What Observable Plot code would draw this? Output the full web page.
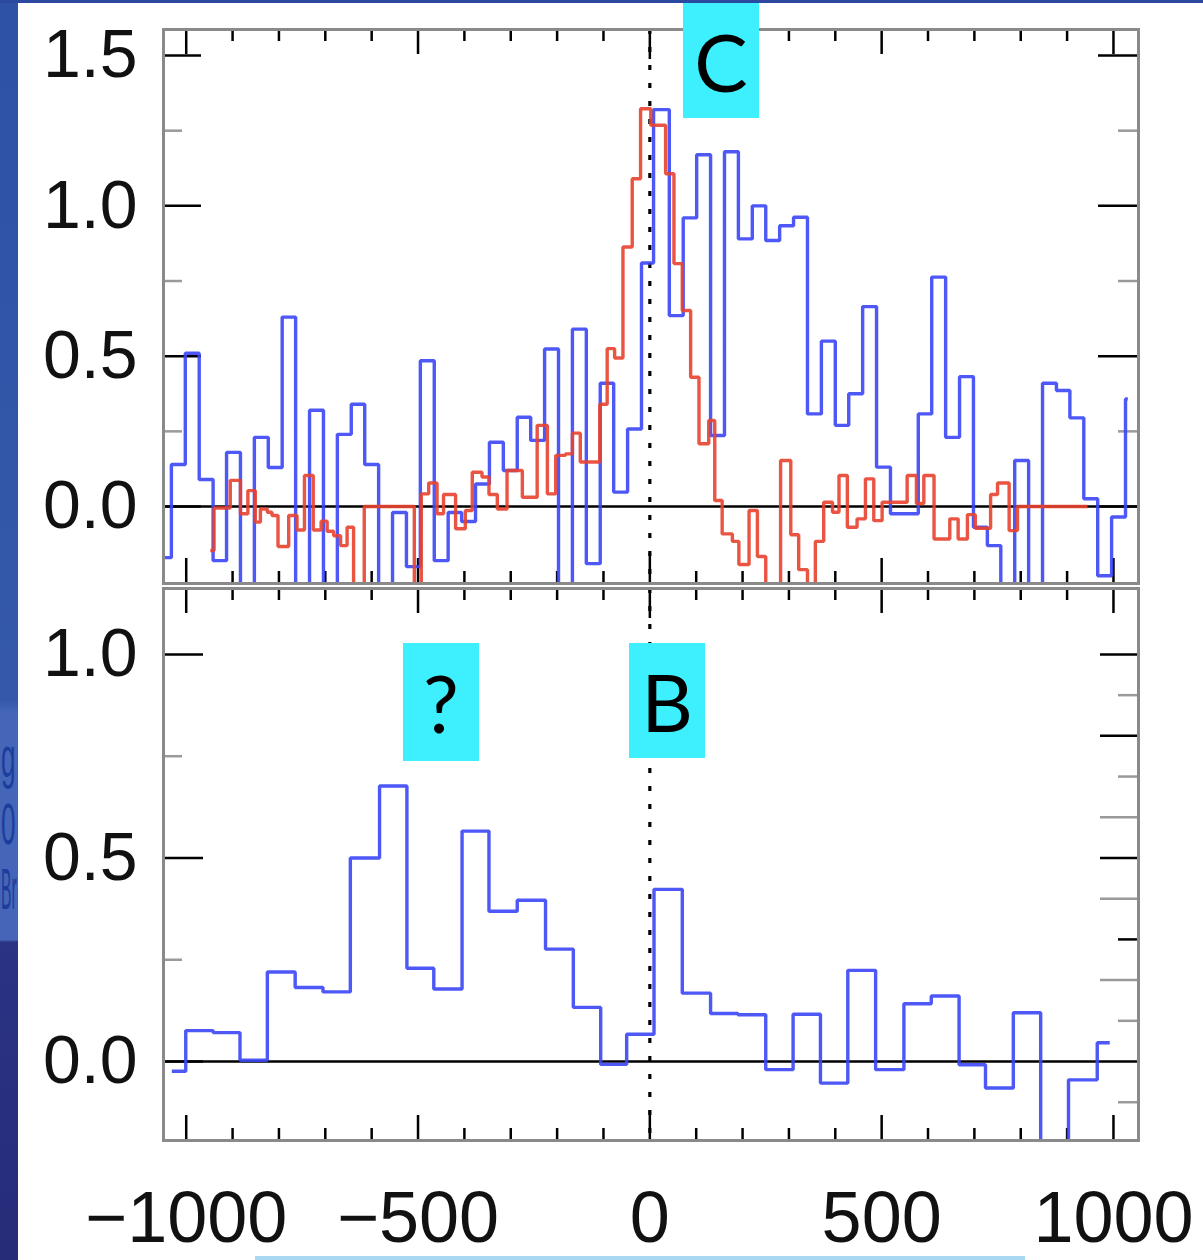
<!DOCTYPE html>
<html>
<head>
<meta charset="utf-8">
<script src="https://cdn.jsdelivr.net/npm/d3@7"></script>
<script src="https://cdn.jsdelivr.net/npm/@observablehq/plot@0.6"></script>
<style>
  body { margin: 0; background: #fff; }
  #wrap { position: relative; width: 1203px; height: 1260px; overflow: hidden; background: #fff; }
  .panel { position: absolute; left: 0; }
  .tag { position: absolute; background: #3ef0fe; color: #000; font-family: Lato, "Open Sans", sans-serif;
         display: flex; align-items: center; justify-content: center; font-size: 80px; line-height: 1; }
  #strip { position: absolute; left: 0; top: 0; width: 18px; height: 1260px; overflow: hidden;
           background: linear-gradient(#2d52a6 0px, #3558aa 700px, #4566b8 712px, #4566b8 940px, #2a3384 942px, #262c78 1260px); }
  #strip span { position: absolute; left: 1px; color: #1d3d9c; font-family: "Liberation Sans", sans-serif;
                font-size: 58px; line-height: 1; transform-origin: 0 0; white-space: nowrap; }
  #topstrip { position: absolute; left: 0; top: 0; width: 1203px; height: 3px; background: #2b49a0; }
  #botline { position: absolute; left: 255px; top: 1256px; width: 770px; height: 4px; background: #a9d9f2; }
</style>
</head>
<body>
<div id="wrap">
  <div id="strip"><span style="top:728px;transform:scaleX(0.45)">g</span><span style="top:795px;transform:scaleX(0.45)">0</span><span style="top:860px;transform:scaleX(0.27)">Br</span></div>
  <div id="topstrip"></div>
  <div id="botline"></div>
</div>
<script>
// ---------------- data ----------------
// top panel, blue spectrum: left bin edges and values (step histogram)
const blueTopEdges = [-1046,-1032,-1002,-972,-942,-913,-883,-853,-823,-793,-764,-734,-704,-674,-644,-615,-585,-555,-525,-495,-465,-435,-406,-376,-346,-316,-286,-257,-227,-197,-167,-137,-107,-78,-48,-18,8,42,72,101,131,161,191,221,250,280,310,340,370,400,429,459,489,519,549,579,608,638,668,698,728,757,787,817,847,877,906,936,966,996,1026];
const blueTopValues = [-0.17,0.14,0.51,0.09,-0.18,0.18,-0.4,0.23,0.13,0.63,-0.4,0.32,-0.4,0.24,0.34,0.14,-0.4,-0.02,-0.20,0.485,-0.18,-0.02,-0.05,0.075,0.214,0.12,0.297,0.22,0.524,-0.4,0.59,-0.19,0.41,0.048,0.258,0.81,1.32,0.635,0.96,1.17,0.236,1.18,0.89,1.0,0.885,0.934,0.962,0.308,0.55,0.27,0.375,0.665,0.131,-0.024,-0.024,0.308,0.763,0.23,0.432,-0.069,-0.13,-0.4,0.153,-0.4,0.41,0.386,0.295,0.026,-0.23,-0.035,0.358];
const blueTopEnd = 1031;

// top panel, red spectrum
const redTopEdges = [-948,-940,-905,-883,-867,-851,-840,-825,-815,-802,-779,-761,-745,-726,-709,-696,-682,-667,-653,-639,-616,-508,-493,-477,-459,-445,-419,-398,-383,-362,-347,-329,-308,-275,-243,-221,-203,-182,-167,-150,-108,-92,-76,-58,-38,-20,2,34,52,70,88,106,127,140,156,178,192,214,232,250,282,304,321,340,357,375,394,408,426,447,465,483,501,555,575,591,613,647,665,685,702,735,750,775,793];
const redTopValues = [-0.146,-0.005,0.087,-0.024,0.053,-0.052,-0.008,-0.019,-0.03,-0.133,-0.03,-0.078,0.103,-0.078,-0.049,-0.082,-0.097,-0.13,-0.069,-0.4,0.0,-0.4,0.042,0.078,-0.024,0.04,-0.074,-0.013,0.114,0.098,0.04,-0.008,0.12,0.031,0.27,0.042,0.17,0.175,0.244,0.148,0.34,0.525,0.494,0.863,1.09,1.323,1.268,1.107,0.808,0.652,0.43,0.209,0.286,0.02,-0.091,-0.116,-0.193,-0.013,-0.166,-0.4,0.153,-0.094,-0.21,-0.4,-0.116,0.014,-0.019,0.103,-0.069,-0.041,0.092,-0.047,0.014,0.103,0.01,0.103,-0.108,-0.041,-0.108,-0.027,-0.072,0.04,0.078,-0.08,0.0];
const redTopEnd = 944;

// bottom panel, blue spectrum
const blueBottomEdges = [-1031,-1001,-942,-884,-825,-765,-705,-646,-583,-524,-466,-405,-347,-286,-225,-165,-106,-50,9,70,131,190,250,309,368,427,487,548,607,667,724,784,843,903,965];
const blueBottomValues = [-0.024,0.076,0.071,0.003,0.22,0.182,0.171,0.50,0.677,0.229,0.178,0.566,0.369,0.396,0.276,0.133,-0.007,0.067,0.423,0.168,0.118,0.115,-0.020,0.116,-0.053,0.224,-0.020,0.142,0.161,-0.008,-0.065,0.12,-0.35,-0.045,0.046];
const blueBottomEnd = 992;

// axis tick labels
const xTickLabels = [-1000, -500, 0, 500, 1000];
const yTopTickLabels = [0, 0.5, 1.0, 1.5];
const yBottomTickLabels = [0, 0.5, 1.0];
const tagLabels = [
  {text: "C", left: 683, top: 3, w: 76, h: 115},
  {text: "?", left: 403, top: 643, w: 76, h: 118},
  {text: "B", left: 629, top: 643, w: 76, h: 115}
];

// ---------------- helpers ----------------
function steps(edges, values, end) {
  const pts = edges.map((e, i) => ({x: e, y: values[i]}));
  pts.push({x: end, y: values[values.length - 1]});
  return pts;
}

const BLUE = "#3a46f6";
const RED = "#e8432f";
const FONT = "Liberation Sans, Arial, sans-serif";
const XDOM = [-1049, 1054];
const ML = 163, MR = 65, W = 1203;

function panel(cfg) {
  const plotW = W - ML - MR;
  const plotH = cfg.height - cfg.mt - cfg.mb;
  const kx = plotW / (XDOM[1] - XDOM[0]);
  const ky = plotH / (cfg.ydom[1] - cfg.ydom[0]);
  const y0 = cfg.ydom[0], y1 = cfg.ydom[1];
  const xt = d3.range(-1000, 1001, 100).map(v => ({v, len: v % 500 === 0 ? (v === 0 ? 30 : 25) : 12}));
  const lt = cfg.leftTicks, rt = cfg.rightTicks;
  const marks = [
    Plot.ruleX(xt, {x: "v", y1: y1, y2: d => y1 - d.len / ky, stroke: "black", strokeWidth: 2.5}),
    Plot.ruleX(xt, {x: "v", y1: y0, y2: d => y0 + d.len / ky, stroke: "black", strokeWidth: 2.5}),
    Plot.ruleY(lt.filter(d => d.c === "k"), {y: "v", x1: XDOM[0], x2: d => XDOM[0] + d.len / kx, stroke: "black", strokeWidth: 2.5}),
    Plot.ruleY(lt.filter(d => d.c === "g"), {y: "v", x1: XDOM[0], x2: d => XDOM[0] + d.len / kx, stroke: "#9a9a9a", strokeWidth: 2.5}),
    Plot.ruleY(rt.filter(d => d.c === "k"), {y: "v", x1: XDOM[1], x2: d => XDOM[1] - d.len / kx, stroke: "black", strokeWidth: 2.5}),
    Plot.ruleY(rt.filter(d => d.c === "g"), {y: "v", x1: XDOM[1], x2: d => XDOM[1] - d.len / kx, stroke: "#9a9a9a", strokeWidth: 2.5}),
    Plot.ruleY([0], {stroke: "black", strokeWidth: 2.6}),
    Plot.ruleX([0], {stroke: "black", strokeWidth: 3.2, strokeDasharray: "5,13"}),
    ...cfg.series.map(s => Plot.line(s.data, {x: "x", y: "y", curve: "step-after", stroke: s.color, strokeWidth: 3.4,
      strokeLinejoin: "miter", strokeLinecap: "butt", strokeOpacity: 0.9, clip: true})),
    Plot.frame({stroke: "#8a8a8a", strokeWidth: 3}),
    Plot.axisY(cfg.yLabels, {tickSize: 0, tickPadding: 26, tickFormat: d => d.toFixed(1),
      fontSize: 68, fontFamily: FONT, fill: "#111", label: null})
  ];
  if (cfg.xLabels) {
    marks.push(Plot.axisX(cfg.xLabels, {anchor: "bottom", tickSize: 0, tickPadding: 50,
      tickFormat: d => d < 0 ? "\u2212" + Math.abs(d) : String(d),
      fontSize: 72, fontFamily: FONT, fill: "#111", label: null}));
  }
  const svg = Plot.plot({
    width: W, height: cfg.height,
    marginTop: cfg.mt, marginBottom: cfg.mb, marginLeft: ML, marginRight: MR,
    x: {domain: XDOM, axis: cfg.xLabels ? undefined : null},
    y: {domain: cfg.ydom},
    style: {fontFamily: FONT, background: "transparent", overflow: "visible"},
    marks
  });
  svg.classList.add("panel");
  svg.style.top = cfg.top + "px";
  return svg;
}

const wrap = document.getElementById("wrap");

const topLeftTicks = [
  {v: 0, len: 38, c: "k"}, {v: 0.5, len: 38, c: "k"}, {v: 1.0, len: 38, c: "k"}, {v: 1.5, len: 38, c: "k"},
  {v: 0.25, len: 19, c: "g"}, {v: 0.75, len: 19, c: "g"}, {v: 1.25, len: 19, c: "g"}
];
const topRightTicks = topLeftTicks.map(d => ({...d, len: d.c === "k" ? 40 : 20}));

const botLeftTicks = [
  {v: 0, len: 40, c: "k"}, {v: 0.5, len: 40, c: "k"}, {v: 1.0, len: 40, c: "k"},
  {v: 0.25, len: 19, c: "g"}, {v: 0.75, len: 19, c: "g"}
];
const botRightTicks = [
  {v: 1.0, len: 38, c: "k"}, {v: 0.9, len: 20, c: "g"}, {v: 0.8, len: 38, c: "k"}, {v: 0.7, len: 20, c: "g"},
  {v: 0.6, len: 38, c: "g"}, {v: 0.5, len: 38, c: "k"}, {v: 0.4, len: 38, c: "g"}, {v: 0.3, len: 20, c: "k"},
  {v: 0.2, len: 38, c: "g"}, {v: 0.1, len: 20, c: "g"}, {v: -0.1, len: 20, c: "g"}
];

wrap.appendChild(panel({
  top: 0, height: 590, mt: 29, mb: 7, ydom: [-0.256, 1.5865],
  series: [
    {data: steps(blueTopEdges, blueTopValues, blueTopEnd), color: BLUE},
    {data: steps(redTopEdges, redTopValues, redTopEnd), color: RED}
  ],
  yLabels: yTopTickLabels, leftTicks: topLeftTicks, rightTicks: topRightTicks
}));

wrap.appendChild(panel({
  top: 580, height: 680, mt: 8, mb: 120, ydom: [-0.194, 1.162],
  series: [{data: steps(blueBottomEdges, blueBottomValues, blueBottomEnd), color: BLUE}],
  yLabels: yBottomTickLabels, leftTicks: botLeftTicks, rightTicks: botRightTicks,
  xLabels: xTickLabels
}));

for (const t of tagLabels) {
  const d = document.createElement("div");
  d.className = "tag";
  d.textContent = t.text;
  Object.assign(d.style, {left: t.left + "px", top: t.top + "px", width: t.w + "px", height: t.h + "px"});
  wrap.appendChild(d);
}
</script>
</body>
</html>
